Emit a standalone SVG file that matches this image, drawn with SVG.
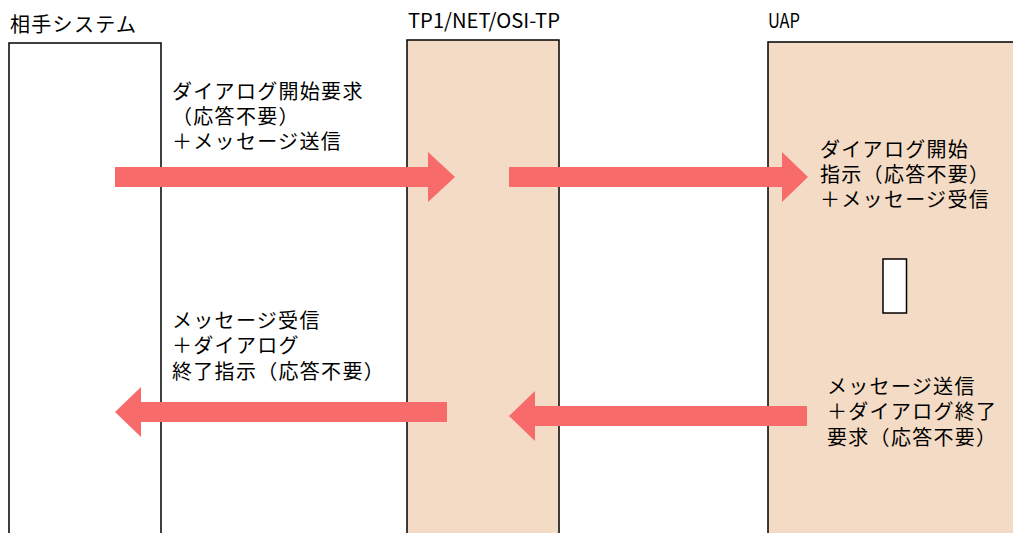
<svg xmlns="http://www.w3.org/2000/svg" width="1013" height="533" viewBox="0 0 1013 533">
<style>
.box{stroke:#000;stroke-width:1.5}
.w{fill:#fff}
.p{fill:#F3DBC5}
.arr{fill:#F76B6B}
.t{font-family:"Liberation Sans","Noto Sans CJK JP","Noto Sans CJK SC",sans-serif;font-size:20px;letter-spacing:1.3px;fill:#000}
.h{font-family:"Noto Sans CJK JP",sans-serif;font-size:20px;fill:#000}
</style>
<rect width="1013" height="533" fill="#fff"/>
<g id="node-partner">
<rect class="box w" x="9" y="43" width="152" height="500"/>
<text class="t" x="10" y="31.5">相手システム</text>
</g>
<g id="node-tp1net">
<rect class="box p" x="407" y="40" width="152" height="503"/>
<text class="h" x="408" y="28" textLength="152" lengthAdjust="spacingAndGlyphs">TP1/NET/OSI-TP</text>
</g>
<g id="node-uap">
<rect class="box p" x="768" y="42" width="260" height="501"/>
<text class="h" x="768" y="28" textLength="32" lengthAdjust="spacingAndGlyphs">UAP</text>
<rect class="box w" x="883" y="259" width="23.5" height="54"/>
</g>
<g id="connectors">
<polygon class="arr" points="115,167 428,167 428,152 455,177 428,202 428,187 115,187"/>
<polygon class="arr" points="509,167 782,167 782,152 808,177 782,202 782,187 509,187"/>
<polygon class="arr" points="447,402 141,402 141,387 115,412 141,437 141,422 447,422"/>
<polygon class="arr" points="807,406 535,406 535,391 509,416 535,441 535,426 807,426"/>
</g>
<g id="labels">
<text class="t" x="172" y="98.5">ダイアログ開始要求</text>
<text class="t" x="172" y="123.8">（応答不要）</text>
<text class="t" x="172" y="149">＋メッセージ送信</text>
<text class="t" x="820" y="156.5">ダイアログ開始</text>
<text class="t" x="820" y="181.5">指示（応答不要）</text>
<text class="t" x="820" y="206.5">＋メッセージ受信</text>
<text class="t" x="172" y="327.5">メッセージ受信</text>
<text class="t" x="172" y="353">＋ダイアログ</text>
<text class="t" x="172" y="378.5">終了指示（応答不要）</text>
<text class="t" x="827" y="393.5">メッセージ送信</text>
<text class="t" x="827" y="419">＋ダイアログ終了</text>
<text class="t" x="827" y="444.5">要求（応答不要）</text>
</g>
</svg>
